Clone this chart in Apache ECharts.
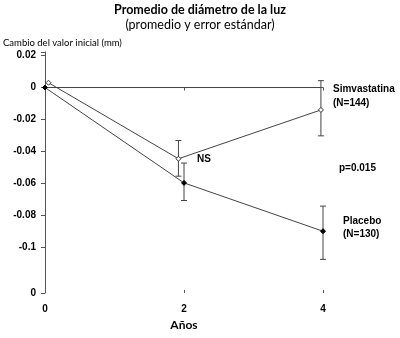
<!DOCTYPE html>
<html>
<head>
<meta charset="utf-8">
<script src="https://cdn.jsdelivr.net/npm/echarts@6/dist/echarts.min.js"></script>
<style>html,body{margin:0;padding:0;background:#fff}#c{width:400px;height:338px}</style>
</head>
<body>
<div id="c"></div>
<script>
// ---- data ----
const xTicks = [0, 2, 4];
const yTickValues = [0.02, 0, -0.02, -0.04, -0.06, -0.08, -0.1];
const simvaX = [0.05, 1.92, 3.97];
const simvaMean = [0.003, -0.0445, -0.014];
const simvaLow = [null, -0.0554, -0.0302];
const simvaHigh = [null, -0.0331, 0.0043];
const placeboX = [0, 2, 4];
const placeboMean = [0, -0.0596, -0.0898];
const placeboLow = [null, -0.0706, -0.1074];
const placeboHigh = [null, -0.0472, -0.0741];
const zeroLine = [[0, 0], [3.97, 0]];

const Y_MIN = -0.1284, Y_MAX = 0.0222;
const lineColor = '#444';
const labelFont = '"Liberation Sans", Arial, sans-serif';

function pairs(xs, ys) { return xs.map((x, i) => [x, ys[i]]); }
function bars(xs, lo, hi) {
  const out = [];
  xs.forEach((x, i) => { if (lo[i] != null) out.push([x, lo[i], hi[i]]); });
  return out;
}
function errRender(params, api) {
  const x = api.value(0), lo = api.value(1), hi = api.value(2);
  const a = api.coord([x, lo]), b = api.coord([x, hi]);
  const w = 3, st = { stroke: lineColor, lineWidth: 1 };
  return { type: 'group', children: [
    { type: 'line', shape: { x1: a[0], y1: a[1], x2: b[0], y2: b[1] }, style: st },
    { type: 'line', shape: { x1: a[0] - w, y1: a[1], x2: a[0] + w, y2: a[1] }, style: st },
    { type: 'line', shape: { x1: b[0] - w, y1: b[1], x2: b[0] + w, y2: b[1] }, style: st }
  ]};
}

const chart = echarts.init(document.getElementById('c'), null, { renderer: 'canvas' });
chart.setOption({
  animation: false,
  backgroundColor: '#fff',
  title: {
    text: 'Promedio de diámetro de la luz',
    subtext: '(promedio y error estándar)',
    left: 'center', top: 3, padding: 0, itemGap: 2,
    textStyle: { fontFamily: 'Lato', fontWeight: 'bold', fontSize: 12.5, color: '#000' },
    subtextStyle: { fontFamily: 'Lato', fontSize: 12.5, color: '#000' }
  },
  grid: { left: 45, right: 77, top: 52, bottom: 45, containLabel: false },
  xAxis: [{
    type: 'value', min: 0, max: 4, interval: 2,
    name: 'Años', nameLocation: 'middle', nameGap: 23,
    nameTextStyle: { fontFamily: 'Lato', fontWeight: 'bold', fontSize: 12, color: '#000' },
    axisLine: { lineStyle: { color: '#555', width: 1 } },
    axisTick: { show: true, length: 3, lineStyle: { color: '#555' } },
    axisLabel: { margin: 11, fontFamily: labelFont, fontWeight: 'bold', fontSize: 10, color: '#000' },
    splitLine: { show: false }
  }, {
    type: 'value', min: 0, max: 4, interval: 2, position: 'bottom',
    axisLine: { show: false },
    axisTick: { show: true, inside: true, length: 3, lineStyle: { color: '#555' } },
    axisLabel: { show: false },
    splitLine: { show: false }
  }],
  yAxis: {
    type: 'value', min: Y_MIN, max: Y_MAX,
    axisLine: { show: true, lineStyle: { color: '#555', width: 1 } },
    axisTick: { show: true, length: 4, lineStyle: { color: '#555' }, customValues: yTickValues.concat([Y_MIN, Y_MAX]) },
    axisLabel: {
      margin: 9, fontFamily: labelFont, fontWeight: 'bold', fontSize: 10, color: '#000',
      customValues: yTickValues.concat([Y_MIN]),
      formatter: v => (v < -0.11 ? '0' : String(+v.toFixed(2)))
    },
    splitLine: { show: false }
  },
  graphic: [
    { type: 'text', x: 3, y: 43, style: { text: 'Cambio del valor inicial (mm)', font: '9.5px Lato', fill: '#000', verticalAlign: 'middle' } },
    { type: 'text', x: 333, y: 89, style: { text: 'Simvastatina', font: 'bold 10px ' + labelFont, fill: '#000', verticalAlign: 'middle' } },
    { type: 'text', x: 333, y: 103, style: { text: '(N=144)', font: 'bold 10px ' + labelFont, fill: '#000', verticalAlign: 'middle' } },
    { type: 'text', x: 339, y: 168, style: { text: 'p=0.015', font: 'bold 10px ' + labelFont, fill: '#000', verticalAlign: 'middle' } },
    { type: 'text', x: 343, y: 221, style: { text: 'Placebo', font: 'bold 10px ' + labelFont, fill: '#000', verticalAlign: 'middle' } },
    { type: 'text', x: 343, y: 234, style: { text: '(N=130)', font: 'bold 10px ' + labelFont, fill: '#000', verticalAlign: 'middle' } },
    { type: 'text', x: 197, y: 159, style: { text: 'NS', font: 'bold 10px ' + labelFont, fill: '#000', verticalAlign: 'middle' } }
  ],
  series: [
    {
      name: 'Referencia', type: 'line', data: zeroLine, symbol: 'none', z: 1,
      lineStyle: { color: lineColor, width: 1 }
    },
    {
      name: 'Simvastatina EE', type: 'custom', renderItem: errRender,
      data: bars(simvaX, simvaLow, simvaHigh), encode: { x: 0, y: [1, 2] }, z: 2
    },
    {
      name: 'Placebo EE', type: 'custom', renderItem: errRender,
      data: bars(placeboX, placeboLow, placeboHigh), encode: { x: 0, y: [1, 2] }, z: 2
    },
    {
      name: 'Simvastatina', type: 'line', data: pairs(simvaX, simvaMean), z: 3,
      symbol: 'diamond', symbolSize: 5, showSymbol: true,
      lineStyle: { color: lineColor, width: 1 },
      itemStyle: { color: '#fff', borderColor: '#333', borderWidth: 1 }
    },
    {
      name: 'Placebo', type: 'line', data: pairs(placeboX, placeboMean), z: 4,
      symbol: 'diamond', symbolSize: 5, showSymbol: true,
      lineStyle: { color: lineColor, width: 1 },
      itemStyle: { color: '#000', borderColor: '#000', borderWidth: 1 }
    }
  ]
});
</script>
</body>
</html>
